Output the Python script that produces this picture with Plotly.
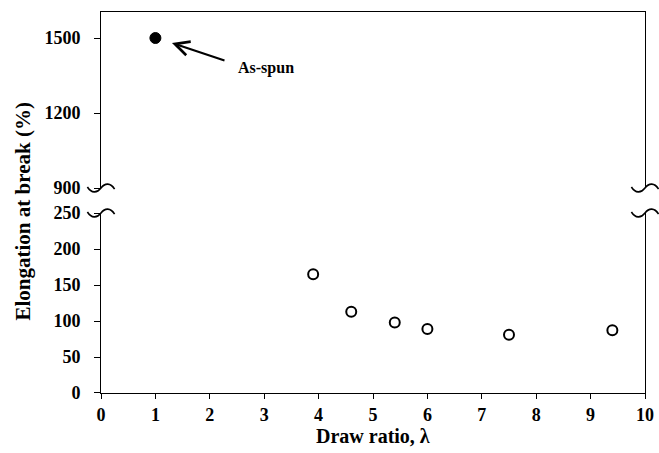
import plotly.graph_objects as go

# Data
as_spun_x = [1.0]
as_spun_y = [1500]
drawn_x = [3.9, 4.6, 5.4, 6.0, 7.5, 9.4]
drawn_y = [165, 113, 98, 89, 81, 87]

x_ticks = list(range(0, 11))
upper_ticks = [900, 1200, 1500]
lower_ticks = [0, 50, 100, 150, 200, 250]

FONT = "Liberation Serif"
tickfont = dict(family=FONT, size=18, color="black", weight="bold")

fig = go.Figure()

fig.add_trace(go.Scatter(
    x=as_spun_x, y=as_spun_y, mode="markers", xaxis="x2", yaxis="y2",
    marker=dict(symbol="circle", size=11, color="black",
                line=dict(color="black", width=1)),
    showlegend=False, hoverinfo="skip"))

fig.add_trace(go.Scatter(
    x=drawn_x, y=drawn_y, mode="markers", xaxis="x", yaxis="y",
    marker=dict(symbol="circle", size=10, color="white",
                line=dict(color="black", width=2)),
    showlegend=False, hoverinfo="skip"))

low_top = 0.4724
up_bot = 0.538

axis_common = dict(showgrid=False, zeroline=False, linecolor="black",
                   linewidth=1, tickcolor="black", tickwidth=1, automargin=False)

fig.update_layout(
    width=659, height=453,
    margin=dict(l=101, r=14, t=12, b=60),
    plot_bgcolor="white", paper_bgcolor="white",
    xaxis=dict(domain=[0, 1], range=[0, 10], tickvals=x_ticks,
               anchor="y", showline=True, ticks="outside", ticklen=5,
               tickfont=tickfont, **axis_common),
    xaxis2=dict(domain=[0, 1], range=[0, 10], matches="x", anchor="y2",
                side="top", showline=True, ticks="", showticklabels=False,
                **axis_common),
    yaxis=dict(domain=[0, low_top], range=[0, 250], tickvals=lower_ticks,
               anchor="x", showline=True, mirror=True, ticks="outside",
               ticklen=6, tickfont=tickfont, ticklabelstandoff=10,
               **axis_common),
    yaxis2=dict(domain=[up_bot, 1], range=[900, 1604], tickvals=upper_ticks,
                anchor="x2", showline=True, mirror=True, ticks="outside",
                ticklen=6, tickfont=tickfont, ticklabelstandoff=10,
                **axis_common),
)

# Axis titles
fig.add_annotation(xref="paper", yref="paper", x=0.5, y=0, yshift=-43,
                   text="<b>Draw ratio, λ</b>", showarrow=False,
                   yanchor="middle", font=dict(family=FONT, size=20, color="black"))
fig.add_annotation(xref="paper", yref="paper", x=0, xshift=-79, y=0.5, yshift=-9,
                   text="<b>Elongation at break (%)</b>", showarrow=False,
                   textangle=-90, xanchor="center",
                   font=dict(family=FONT, size=21, color="black"))

# As-spun annotation with arrow
fig.add_annotation(xref="x2", yref="y2", x=1.305, y=1480,
                   ax=54, ay=18, text="", showarrow=True,
                   arrowhead=5, arrowsize=1.4, arrowwidth=2, arrowcolor="black",
                   standoff=0)
fig.add_annotation(xref="x2", yref="y2", x=3.03, y=1380,
                   text="<b>As-spun</b>", showarrow=False,
                   font=dict(family=FONT, size=16, color="black"))

# Break marks (wavy) on left and right spines
def wave(x0, y0, w=0.05, h=0.014, flip=1):
    xl = x0 - w / 2
    xm = x0
    xr = x0 + w / 2
    return (f"M {xl},{y0 + flip*h*0.2} "
            f"C {xl + w*0.15},{y0 - flip*h} {xm - w*0.15},{y0 - flip*h} {xm},{y0} "
            f"C {xm + w*0.15},{y0 + flip*h} {xr - w*0.15},{y0 + flip*h} {xr},{y0 - flip*h*0.2}")

for xs in (0.0, 1.0):
    for ys in (up_bot, low_top):
        fig.add_shape(type="path", xref="paper", yref="paper",
                      path=wave(xs, ys), line=dict(color="black", width=1.6),
                      layer="above")

fig.write_html("out.html", config={"displayModeBar": False},
               post_script="document.body.style.margin='0';document.body.style.overflow='hidden';")
